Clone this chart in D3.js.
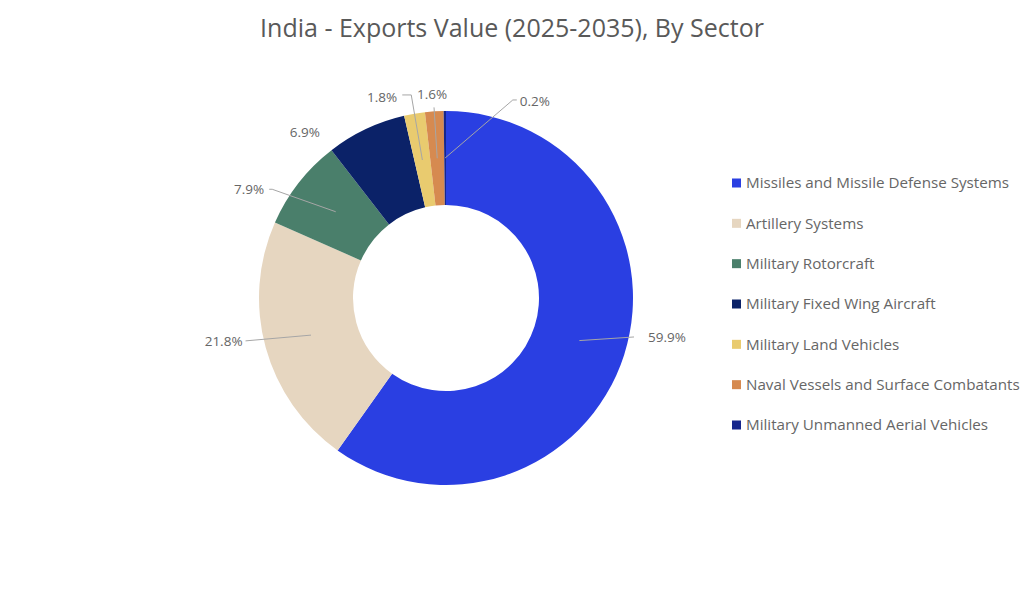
<!DOCTYPE html>
<html>
<head>
<meta charset="utf-8">
<title>India - Exports Value (2025-2035), By Sector</title>
<script src="https://d3js.org/d3.v7.min.js"></script>
<style>
    body {
        margin: 0;
        background: #fff;
        font-family: "Open Sans", "DejaVu Sans", sans-serif;
    }
    .title {
        font-size: 25px;
        fill: #595959;
    }
    .slice-label {
        font-size: 13.5px;
        fill: #666;
    }
    .legend-label {
        font-size: 15.2px;
        fill: #666;
    }
</style>
</head>
<body>
<script>
    // Data
    var sectors = [
        "Missiles and Missile Defense Systems",
        "Artillery Systems",
        "Military Rotorcraft",
        "Military Fixed Wing Aircraft",
        "Military Land Vehicles",
        "Naval Vessels and Surface Combatants",
        "Military Unmanned Aerial Vehicles"
    ];
    var shares = [59.9, 21.8, 7.9, 6.9, 1.8, 1.6, 0.2];
    var colors = ["#2a3fe2", "#e6d6c0", "#4a7f6b", "#0b2268", "#e9cb6f", "#d68a50", "#16268c"];

    // where each label goes: angle nudge (deg), radius of elbow, horizontal tail, gap, anchor
    var labelLayout = [
        { nudge: -6, r: 192, tail: 0, gap: 14, anchor: "start", dy: 0, line: true },
        { nudge: 3.3, r: 205, tail: 0, gap: -3, anchor: "end", dy: 0, line: true },
        { nudge: -6, r: 205, tail: -3, gap: -5, anchor: "end", dy: 0, line: true },
        { nudge: -15, r: 218, tail: 0, gap: 0, anchor: "middle", dy: 0, line: false },
        { nudge: 0, r: 206, tail: -9, gap: -5, anchor: "end", dy: 2, line: true },
        { nudge: 0, r: 191, tail: 0, gap: -2, anchor: "middle", dy: -13, line: true },
        { nudge: 19, r: 209, tail: 4, gap: 3, anchor: "start", dy: 1, line: true }
    ];

    var width = 1024, height = 604;
    var cx = 446, cy = 298;
    var outerR = 187, innerR = 93;

    var svg = d3.select("body").append("svg")
        .attr("width", width)
        .attr("height", height);

    // Title
    svg.append("text")
        .attr("class", "title")
        .attr("x", 512)
        .attr("y", 37)
        .attr("text-anchor", "middle")
        .text("India - Exports Value (2025-2035), By Sector");

    var pie = d3.pie().sort(null).value(function (d) { return d; });
    var arcs = pie(shares);

    var arc = d3.arc().innerRadius(innerR).outerRadius(outerR);
    var midArc = d3.arc().innerRadius((innerR + outerR) / 2).outerRadius((innerR + outerR) / 2);

    var g = svg.append("g").attr("transform", "translate(" + cx + "," + cy + ")");

    g.selectAll("path.slice")
        .data(arcs)
        .enter().append("path")
        .attr("class", "slice")
        .attr("d", arc)
        .attr("fill", function (d, i) { return colors[i]; });

    // Leader lines and labels
    function polar(angle, r) {
        return [r * Math.sin(angle), -r * Math.cos(angle)];
    }

    arcs.forEach(function (d, i) {
        var lay = labelLayout[i];
        var mid = (d.startAngle + d.endAngle) / 2 + lay.nudge * Math.PI / 180;
        var start = midArc.centroid(d);
        var elbow = polar(mid, lay.r);
        var end = [elbow[0] + lay.tail, elbow[1]];

        if (lay.line) {
            g.append("polyline")
                .attr("points", [start, elbow, end].map(function (p) { return p.join(","); }).join(" "))
                .attr("fill", "none")
                .attr("stroke", "#a6a6a6")
                .attr("stroke-width", 1);
        }

        g.append("text")
            .attr("class", "slice-label")
            .attr("x", end[0] + lay.gap)
            .attr("y", end[1] + lay.dy)
            .attr("dy", "0.35em")
            .attr("text-anchor", lay.anchor)
            .text(d3.format(".1f")(shares[i]) + "%");
    });

    // Legend
    var legendY = d3.scalePoint()
        .domain(sectors)
        .range([183, 425]);

    var legend = svg.append("g");

    var item = legend.selectAll("g.item")
        .data(sectors)
        .enter().append("g")
        .attr("class", "item")
        .attr("transform", function (d) { return "translate(732," + legendY(d) + ")"; });

    item.append("rect")
        .attr("x", 0)
        .attr("y", -4.5)
        .attr("width", 9)
        .attr("height", 9)
        .attr("fill", function (d, i) { return colors[i]; });

    item.append("text")
        .attr("class", "legend-label")
        .attr("x", 14)
        .attr("y", 0)
        .attr("dy", "0.35em")
        .text(function (d) { return d; });
</script>
</body>
</html>
